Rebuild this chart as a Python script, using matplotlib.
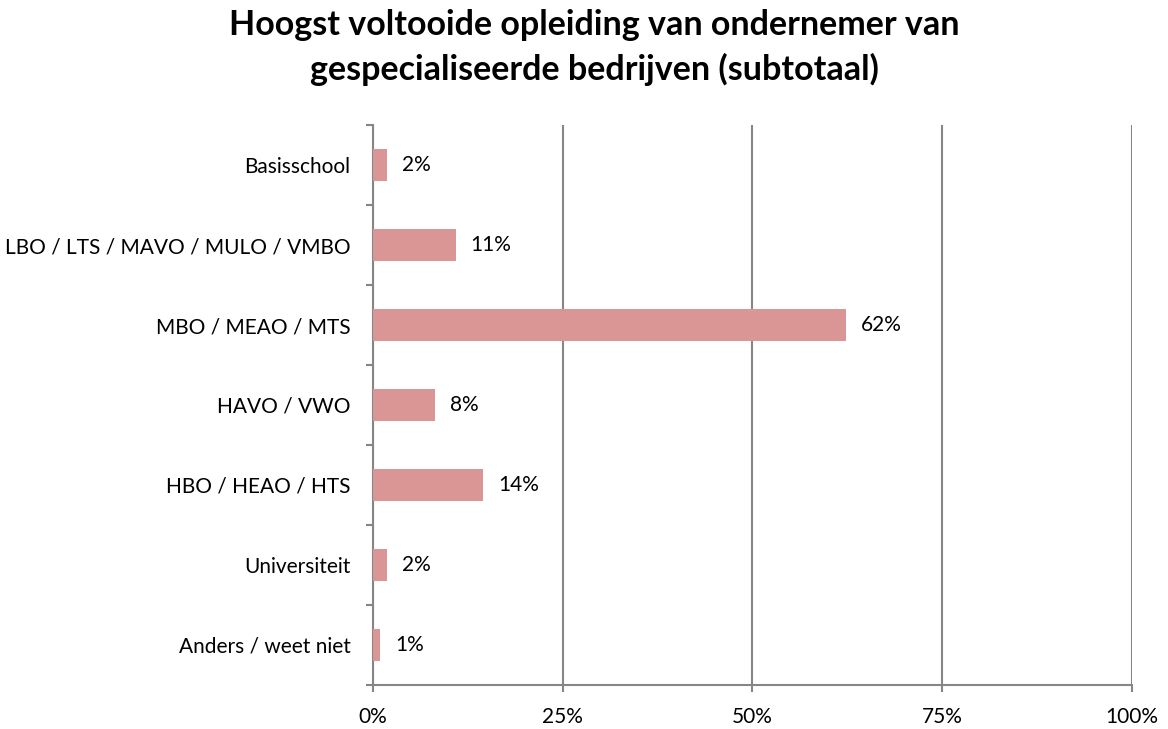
import matplotlib.pyplot as plt

categories = ['Basisschool', 'LBO / LTS / MAVO / MULO / VMBO', 'MBO / MEAO / MTS',
              'HAVO / VWO', 'HBO / HEAO / HTS', 'Universiteit', 'Anders / weet niet']
values = [1.8, 10.9, 62.3, 8.2, 14.5, 1.8, 0.9]
labels = ['2%', '11%', '62%', '8%', '14%', '2%', '1%']
xticks = [0, 25, 50, 75, 100]

plt.rcParams['font.family'] = ['Lato', 'DejaVu Sans']

fig = plt.figure(figsize=(11.68, 7.29), dpi=100)
ax = fig.add_axes([0.3193, 0.0604, 0.6499, 0.7681])

grey = '#868686'
ypos = list(range(len(categories)))[::-1]
ax.barh(ypos, values, height=0.4, color='#D99694', zorder=3)

for y, v, lab in zip(ypos, values, labels):
    ax.annotate(lab, (v, y), xytext=(15, 0), textcoords='offset pixels',
                va='center', ha='left', fontsize=15)

ax.set_xlim(0, 100)
ax.set_ylim(-0.5, len(categories) - 0.5)
ax.set_xticks(xticks)
ax.set_xticklabels([f'{t}%' for t in xticks], fontsize=15)
ax.set_yticks(ypos)
ax.set_yticklabels(categories, fontsize=15)
ax.tick_params(axis='y', length=0, pad=16)
ax.set_yticks([i - 0.5 for i in range(len(categories) + 1)], minor=True)
ax.tick_params(axis='y', which='minor', length=5, color=grey, width=1.5)
ax.tick_params(axis='x', length=5, color=grey, width=1.5, pad=11)

ax.grid(axis='x', color=grey, linewidth=1.5, zorder=0)
for s in ['top', 'right']:
    ax.spines[s].set_visible(False)
for s in ['left', 'bottom']:
    ax.spines[s].set_color(grey)
    ax.spines[s].set_linewidth(1.5)

fig.text(0.509, 0.935, 'Hoogst voltooide opleiding van ondernemer van\ngespecialiseerde bedrijven (subtotaal)',
         ha='center', va='center', fontsize=24.5, fontweight='bold', linespacing=1.45)

fig.savefig('out.png', dpi=100)
